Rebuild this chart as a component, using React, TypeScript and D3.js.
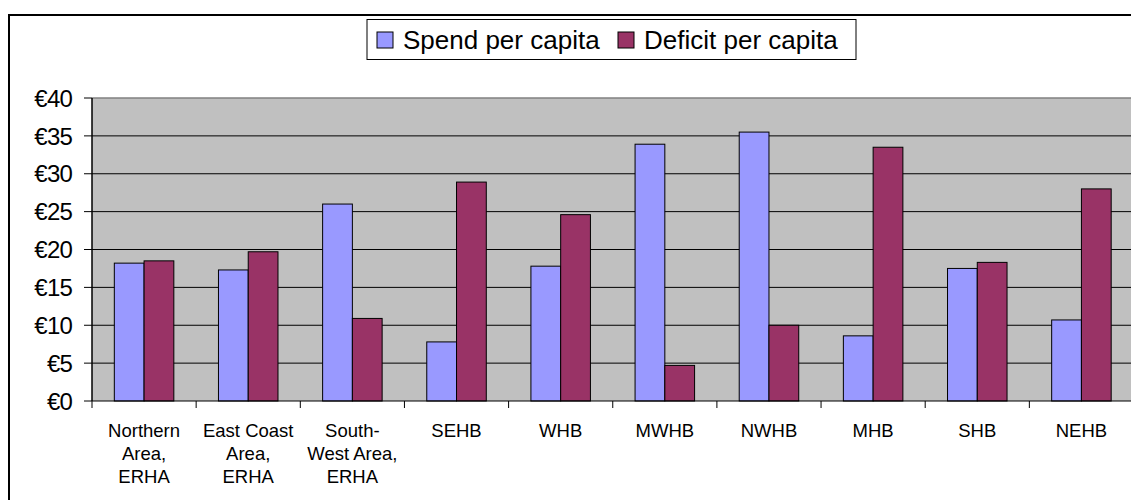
import React from "react";
import * as d3 from "d3";

const categories = [
  ["Northern", "Area,", "ERHA"],
  ["East Coast", "Area,", "ERHA"],
  ["South-", "West Area,", "ERHA"],
  ["SEHB"],
  ["WHB"],
  ["MWHB"],
  ["NWHB"],
  ["MHB"],
  ["SHB"],
  ["NEHB"],
];
const spendPerCapita = [18.2, 17.3, 26.0, 7.8, 17.8, 33.9, 35.5, 8.6, 17.5, 10.7];
const deficitPerCapita = [18.5, 19.7, 10.9, 28.9, 24.6, 4.7, 10.0, 33.5, 18.3, 28.0];
const yTicks = [0, 5, 10, 15, 20, 25, 30, 35, 40];
const seriesNames = ["Spend per capita", "Deficit per capita"];
const seriesColors = ["#9999FF", "#993366"];

export default function App() {
  const W = 1131;
  const H = 500;
  const plot = { left: 92, top: 98, right: 1133.5, bottom: 401 };
  const font = "'Liberation Sans', Arial, sans-serif";

  const x = d3
    .scaleBand<number>()
    .domain(categories.map((_, i) => i))
    .range([plot.left, plot.right]);
  const y = d3.scaleLinear().domain([0, 40]).range([plot.bottom, plot.top]);
  const barW = x.bandwidth() / 3.5;
  const series = [spendPerCapita, deficitPerCapita];

  return (
    <svg
      width={W}
      height={H}
      style={{ position: "absolute", left: 0, top: 0, background: "#fff" }}
      fontFamily={font}
    >
      {/* chart border */}
      <rect x={9} y={15} width={1200} height={600} fill="#fff" stroke="#000" strokeWidth={2} />

      {/* plot area */}
      <rect x={plot.left} y={plot.top} width={plot.right - plot.left} height={plot.bottom - plot.top} fill="#C0C0C0" />
      {yTicks.map((t) => (
        <g key={t}>
          {t > 0 && t < 40 && (
            <line x1={plot.left} x2={plot.right} y1={y(t)} y2={y(t)} stroke="#000" strokeWidth={1} />
          )}
          <line x1={plot.left - 8} x2={plot.left} y1={y(t)} y2={y(t)} stroke="#000" strokeWidth={1} />
          <text x={72} y={y(t)} dy="0.36em" textAnchor="end" fontSize={24} letterSpacing={-0.8} fill="#000">
            {"€" + t}
          </text>
        </g>
      ))}
      <line x1={plot.left} x2={plot.right} y1={plot.top} y2={plot.top} stroke="#808080" strokeWidth={1.5} />

      {/* bars */}
      {series.map((vals, s) =>
        vals.map((v, i) => {
          const bx = (x(i) as number) + barW * 0.75 + s * barW;
          return (
            <rect
              key={s + "-" + i}
              x={bx}
              y={y(v)}
              width={barW}
              height={y(0) - y(v)}
              fill={seriesColors[s]}
              stroke="#000"
              strokeWidth={1}
            />
          );
        })
      )}

      {/* axes */}
      <line x1={plot.left} x2={plot.left} y1={plot.top} y2={plot.bottom} stroke="#000" strokeWidth={1.5} />
      <line x1={plot.left} x2={plot.right} y1={plot.bottom} y2={plot.bottom} stroke="#000" strokeWidth={1} />
      {categories.map((_, i) => (
        <line
          key={i}
          x1={x(i) as number}
          x2={x(i) as number}
          y1={plot.bottom}
          y2={plot.bottom + 7}
          stroke="#000"
          strokeWidth={1}
        />
      ))}
      {categories.map((lines, i) => (
        <text key={i} textAnchor="middle" fontSize={18.5} fill="#000">
          {lines.map((l, j) => (
            <tspan key={j} x={(x(i) as number) + x.bandwidth() / 2} y={437 + j * 23}>
              {l}
            </tspan>
          ))}
        </text>
      ))}

      {/* legend */}
      <rect x={367} y={19.5} width={489} height={40} fill="#fff" stroke="#000" strokeWidth={1} />
      {seriesNames.map((name, s) => {
        const sx = s === 0 ? 377 : 618;
        return (
          <g key={name}>
            <rect x={sx} y={32} width={16} height={16} fill={seriesColors[s]} stroke="#000" strokeWidth={1} />
            <text x={sx + 26} y={40} dy="0.36em" fontSize={26} fill="#000">
              {name}
            </text>
          </g>
        );
      })}
    </svg>
  );
}
